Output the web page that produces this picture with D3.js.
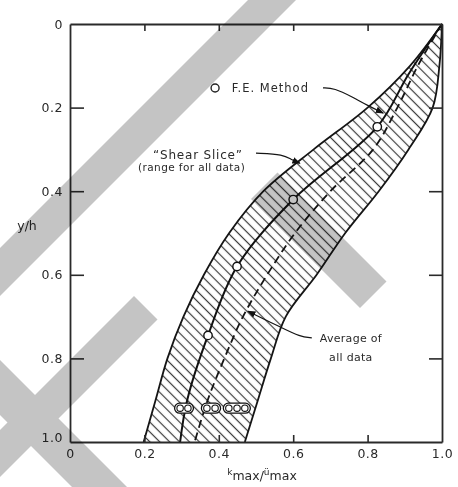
<!DOCTYPE html>
<html>
<head>
<meta charset="utf-8">
<script src="https://cdn.jsdelivr.net/npm/d3@7"></script>
<style>
  html, body { margin: 0; padding: 0; background: #fff; }
  svg text { font-family: "DejaVu Sans", "Liberation Sans", sans-serif; fill: #2a2a2a; }
</style>
</head>
<body>
<svg id="chart" width="458" height="487"></svg>
<script>
// Relative depth y/h at which the range of the shear-slice data is tabulated
const depthLevels = [0, 0.1, 0.2, 0.3, 0.4, 0.5, 0.6, 0.7, 0.8, 0.9, 1.0];
// Lower and upper limit of k_max/u_max over all data ("Shear Slice" range)
const rangeLow  = [1.0, 0.914, 0.80, 0.655, 0.52, 0.428, 0.36, 0.305, 0.262, 0.23, 0.198];
const rangeHigh = [1.0, 0.993, 0.975, 0.91, 0.83, 0.74, 0.663, 0.58, 0.54, 0.505, 0.47];
// Average of all data
const averageRatio = [1.0, 0.935, 0.88, 0.815, 0.70, 0.605, 0.53, 0.465, 0.415, 0.37, 0.335];

// F.E. method curve and its computed points
const feLineDepth = [0, 0.12, 0.246, 0.42, 0.58, 0.745, 0.9, 1.0];
const feLineRatio = [1.0, 0.91, 0.826, 0.60, 0.449, 0.371, 0.315, 0.296];
const fePointDepth = [0.246, 0.42, 0.58, 0.745];
const fePointRatio = [0.826, 0.60, 0.449, 0.371];

// Grouped shear-slice results near the base
const sliceDepth = 0.919;
const sliceGroups = [[0.296, 0.317], [0.368, 0.390], [0.427, 0.449, 0.470]];

// Axis ticks
const tickValues = [0, 0.2, 0.4, 0.6, 0.8, 1.0];
const innerTicks = [0.2, 0.4, 0.6, 0.8];

const W = 458, H = 487;
const svg = d3.select("#chart");
const x = d3.scaleLinear().domain([0, 1]).range([70, 442]);
const y = d3.scaleLinear().domain([0, 1]).range([24, 442]);
const fmt = v => v === 0 ? "0" : d3.format(".1f")(v);
const smooth = d3.curveCatmullRom.alpha(0.5);

const defs = svg.append("defs");
const hatch = defs.append("pattern")
  .attr("id", "hatch").attr("patternUnits", "userSpaceOnUse")
  .attr("width", 7).attr("height", 7)
  .attr("patternTransform", "rotate(-45)");
hatch.append("line").attr("x1", 3.5).attr("y1", 0).attr("x2", 3.5).attr("y2", 7)
  .attr("stroke", "#3a3a3a").attr("stroke-width", 1.2);

defs.append("marker").attr("id", "arrow")
  .attr("viewBox", "0 0 10 10").attr("refX", 9).attr("refY", 5)
  .attr("markerWidth", 7).attr("markerHeight", 7).attr("orient", "auto")
  .append("path").attr("d", "M0,1 L10,5 L0,9 Z").attr("fill", "#111");

const band = depthLevels.map((d, i) => ({ d, lo: rangeLow[i], hi: rangeHigh[i], avg: averageRatio[i] }));

// hatched range
svg.append("path").datum(band)
  .attr("d", d3.area().curve(smooth)
    .y(p => y(p.d)).x0(p => x(p.lo)).x1(p => x(p.hi)))
  .attr("fill", "url(#hatch)");

const lineY = d3.line().curve(smooth);
svg.append("path").attr("d", lineY(band.map(p => [x(p.lo), y(p.d)])))
  .attr("fill", "none").attr("stroke", "#151515").attr("stroke-width", 1.8);
svg.append("path").attr("d", lineY(band.map(p => [x(p.hi), y(p.d)])))
  .attr("fill", "none").attr("stroke", "#151515").attr("stroke-width", 1.8);

// average line
svg.append("path").attr("d", lineY(band.map(p => [x(p.avg), y(p.d)])))
  .attr("fill", "none").attr("stroke", "#151515").attr("stroke-width", 1.8)
  .attr("stroke-dasharray", "8,5");

// F.E. line
svg.append("path").attr("d", lineY(feLineDepth.map((d, i) => [x(feLineRatio[i]), y(d)])))
  .attr("fill", "none").attr("stroke", "#111").attr("stroke-width", 2);

svg.append("g").selectAll("circle").data(fePointDepth).join("circle")
  .attr("cx", (d, i) => x(fePointRatio[i])).attr("cy", d => y(d)).attr("r", 4.2)
  .attr("fill", "#fff").attr("stroke", "#111").attr("stroke-width", 1.4);

// grouped slice points
const sg = svg.append("g");
sliceGroups.forEach(g => {
  const x0 = x(d3.min(g)) - 5.5, x1 = x(d3.max(g)) + 5.5;
  sg.append("rect").attr("x", x0).attr("y", y(sliceDepth) - 5).attr("width", x1 - x0).attr("height", 10)
    .attr("rx", 5).attr("fill", "#fff").attr("stroke", "#111").attr("stroke-width", 1.3);
  sg.selectAll(null).data(g).join("circle")
    .attr("cx", v => x(v)).attr("cy", y(sliceDepth)).attr("r", 3.2)
    .attr("fill", "#fff").attr("stroke", "#111").attr("stroke-width", 1.1);
});

// axes
const axStyle = g => {
  g.selectAll(".domain").attr("stroke", "#2a2a2a").attr("stroke-width", 1.8);
  g.selectAll(".tick line").attr("stroke", "#2a2a2a").attr("stroke-width", 1.6);
  g.selectAll("text").attr("font-size", 12.5).attr("letter-spacing", 0.5)
    .attr("font-family", "DejaVu Sans").attr("fill", "#2a2a2a");
};
svg.append("g").attr("transform", `translate(${x(0)},0)`)
  .call(d3.axisLeft(y).tickValues(tickValues).tickFormat(fmt).tickSizeInner(-14).tickSizeOuter(0).tickPadding(7))
  .call(axStyle)
  .call(g => g.selectAll(".tick").filter(d => d === 0 || d === 1).select("line").remove())
  .call(g => g.selectAll(".tick text").filter(d => d === 1).attr("dy", "-0.05em"));
svg.append("g").attr("transform", `translate(0,${y(1)})`)
  .call(d3.axisBottom(x).tickValues(tickValues).tickFormat(fmt).tickSizeInner(-7).tickSizeOuter(0).tickPadding(7))
  .call(axStyle)
  .call(g => g.selectAll(".tick").filter(d => d === 0 || d === 1).select("line").remove());
svg.append("g").attr("transform", `translate(0,${y(0)})`)
  .call(d3.axisTop(x).tickValues(innerTicks).tickFormat("").tickSizeInner(-7).tickSizeOuter(0))
  .call(axStyle);
svg.append("g").attr("transform", `translate(${x(1)},0)`)
  .call(d3.axisRight(y).tickValues(innerTicks).tickFormat("").tickSizeInner(-13).tickSizeOuter(0))
  .call(axStyle);

// axis titles
svg.append("text").attr("x", 27).attr("y", 230).attr("text-anchor", "middle")
  .attr("font-size", 12.5).text("y/h");
const xt = svg.append("text").attr("x", 262).attr("y", 480).attr("text-anchor", "middle").attr("font-size", 12.5);
xt.append("tspan").attr("font-size", 9).attr("dy", -5).text("k");
xt.append("tspan").attr("dy", 5).text("max");
xt.append("tspan").text("/");
xt.append("tspan").attr("font-size", 9).attr("dy", -5).text("\u00fc");
xt.append("tspan").attr("dy", 5).text("max");

// annotations (anchored in data units)
const leader = d3.line().curve(d3.curveBasis);
const ann = svg.append("g").attr("fill", "none").attr("stroke", "#151515").attr("stroke-width", 1.2);

svg.append("circle").attr("cx", x(0.39)).attr("cy", y(0.153)).attr("r", 4)
  .attr("fill", "#fff").attr("stroke", "#222").attr("stroke-width", 1.4);
svg.append("text").attr("x", x(0.435)).attr("y", y(0.153) + 4.5).attr("font-size", 11.5)
  .attr("letter-spacing", 1).text("F.E. Method");
ann.append("path").attr("marker-end", "url(#arrow)")
  .attr("d", leader([[x(0.68), y(0.153)], [x(0.71), y(0.153)], [x(0.76), y(0.175)], [x(0.80), y(0.195)], [x(0.842), y(0.213)]]));

svg.append("text").attr("x", x(0.223)).attr("y", y(0.312) + 4.5).attr("font-size", 12)
  .attr("letter-spacing", 0.8).text("\u201cShear Slice\u201d");
svg.append("text").attr("x", x(0.183)).attr("y", y(0.342) + 4).attr("font-size", 10.5)
  .attr("letter-spacing", 0.4).text("(range for all data)");
ann.append("path").attr("marker-end", "url(#arrow)")
  .attr("d", leader([[x(0.50), y(0.309)], [x(0.575), y(0.312)], [x(0.595), y(0.325)], [x(0.618), y(0.333)]]));

svg.append("text").attr("x", x(0.755)).attr("y", y(0.752) + 4).attr("font-size", 11)
  .attr("text-anchor", "middle").attr("letter-spacing", 0.3).text("Average of");
svg.append("text").attr("x", x(0.755)).attr("y", y(0.797) + 4).attr("font-size", 11)
  .attr("text-anchor", "middle").attr("letter-spacing", 0.3).text("all data");
ann.append("path").attr("marker-end", "url(#arrow)")
  .attr("d", leader([[x(0.65), y(0.751)], [x(0.618), y(0.748)], [x(0.57), y(0.727)], [x(0.478), y(0.687)]]));

// gray stamp overlay: diagonal strips given as (x+y, x-y) limits in page pixels
const stampStrips = [
  { s: [248, 296], t: [-1000, 1000] },
  { s: [450, 668], t: [52, 105] },
  { s: [430, 477], t: [-1000, -162] },
  { s: [-1000, 1000], t: [-415, -360] }
];
const stamp = svg.append("g").style("mix-blend-mode", "multiply");
stampStrips.forEach((r, i) => {
  const cid = "stampClip" + i;
  defs.append("clipPath").attr("id", cid).append("rect").attr("width", W).attr("height", H);
  const corners = [[r.s[0], r.t[0]], [r.s[1], r.t[0]], [r.s[1], r.t[1]], [r.s[0], r.t[1]]]
    .map(([s, t]) => [(s + t) / 2, (s - t) / 2]);
  stamp.append("polygon").attr("clip-path", `url(#${cid})`)
    .attr("points", corners.map(p => p.join(",")).join(" "))
    .attr("fill", "#c4c4c4");
});
</script>
</body>
</html>
